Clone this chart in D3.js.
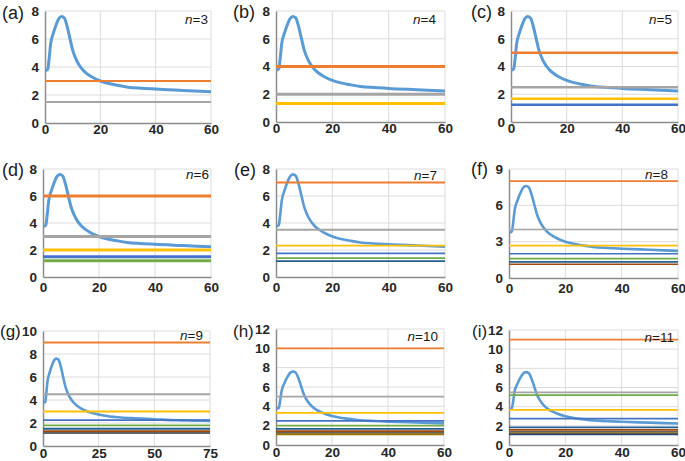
<!DOCTYPE html>
<html>
<head>
<meta charset="utf-8">
<script src="https://cdn.jsdelivr.net/npm/d3@7"></script>
<style>
  html, body { margin: 0; padding: 0; background: #fff; }
  svg { display: block; }
  text { font-family: "Liberation Sans", Arial, sans-serif; }
</style>
</head>
<body>
<svg id="chart" width="685" height="461"></svg>
<script>
// ---------------- DATA ----------------
const panelLabels = ["(a)", "(b)", "(c)", "(d)", "(e)", "(f)", "(g)", "(h)", "(i)"];
const nValues = [3, 4, 5, 6, 7, 8, 9, 10, 11];
const xMaxes = [60, 60, 60, 60, 60, 60, 75, 60, 60];
const xTickSteps = [20, 20, 20, 20, 20, 20, 25, 20, 20];
const yMaxes = [8, 8, 8, 8, 8, 9, 10, 12, 12];
const yTickSteps = [2, 2, 2, 2, 2, 3, 2, 2, 2];

// the common (blue) curve
const curveX = [0.3, 1, 1.5, 2, 3, 4, 5, 6, 7, 8, 9, 10, 11, 12, 13, 14, 15, 17, 20, 23, 26, 30, 35, 40, 50, 60, 65, 70, 75];
const curveY = [3.75, 3.85, 4.6, 5.6, 6.4, 7.0, 7.45, 7.6, 7.5, 6.9, 6.05, 5.2, 4.65, 4.25, 3.95, 3.72, 3.55, 3.28, 3.0, 2.82, 2.7, 2.56, 2.48, 2.42, 2.33, 2.24, 2.22, 2.2, 2.18];

// horizontal levels for each panel
const levelsA = [3, 1.5];
const levelsB = [4, 2, 1.33];
const levelsC = [5, 2.5, 1.67, 1.25];
const levelsD = [6, 3, 2, 1.5, 1.2];
const levelsE = [7, 3.5, 2.33, 1.75, 1.4, 1.17];
const levelsF = [8, 4, 2.67, 2, 1.6, 1.33, 1.14];
const levelsG = [9, 4.5, 3, 2.25, 1.8, 1.5, 1.29, 1.13];
const levelsH = [10, 5, 3.33, 2.5, 2, 1.67, 1.43, 1.25, 1.11];
const levelsI = [11, 5.5, 3.67, 2.75, 5.2, 1.83, 1.57, 1.38, 1.22, 1.1];
const allLevels = [levelsA, levelsB, levelsC, levelsD, levelsE, levelsF, levelsG, levelsH, levelsI];

const curveColor = "#5B9BD5";
const levelColors = ["#ED7D31", "#A5A5A5", "#FFC000", "#4472C4", "#70AD47", "#255E91", "#9E480E", "#636363", "#997300", "#264478"];

// ---------------- LAYOUT ----------------
const plotLeft   = [45, 276, 511, 43, 276, 509, 43, 276, 509];
const plotRight  = [211, 445, 678, 211, 445, 678, 210, 444, 678];
const plotTop    = [11, 11, 11, 169, 169, 169, 331, 329, 330];
const plotBottom = [123, 122, 122, 277, 277, 278, 446, 445, 445];
const labelX     = [2, 233, 471, 2, 234, 471, 0, 233, 472];
const labelY     = [19, 18, 18, 176, 176, 175, 337, 337, 337];
const labelSize  = [18, 18, 18, 18, 18, 18, 17, 17, 17];
const nLabelDx   = [-3, -9, -6, -2, -8, -10, -7, -6, -4];
const nLabelY    = [24, 24, 24, 179, 180, 179, 340, 341, 342];
const levelWidth = [2.2, 3, 2.5, 3, 1.8, 1.6, 1.8, 1.8, 1.8];
const tickWeight = [700, 700, 600, 600, 600, 600, 700, 700, 700];
const xTickPad   = [1, 1, 1, 5, 5, 5, 2, 2, 2];

const svg = d3.select("#chart");
const curveData = curveX.map((x, i) => ({x, y: curveY[i]}));

panelLabels.forEach((lab, p) => {
  const x = d3.scaleLinear().domain([0, xMaxes[p]]).range([plotLeft[p], plotRight[p]]);
  const y = d3.scaleLinear().domain([0, yMaxes[p]]).range([plotBottom[p], plotTop[p]]);
  const g = svg.append("g");

  const xt = d3.range(0, xMaxes[p] + 0.001, xTickSteps[p]);
  const yt = d3.range(0, yMaxes[p] + 0.001, yTickSteps[p]);

  // gridlines
  g.selectAll(".hg").data(yt.filter(v => v > 0)).join("line")
    .attr("x1", plotLeft[p]).attr("x2", plotRight[p])
    .attr("y1", d => y(d)).attr("y2", d => y(d))
    .attr("stroke", "#dcdcdc").attr("stroke-width", 1);
  g.selectAll(".vg").data(xt.filter(v => v > 0)).join("line")
    .attr("x1", d => x(d)).attr("x2", d => x(d))
    .attr("y1", plotTop[p]).attr("y2", plotBottom[p])
    .attr("stroke", "#dcdcdc").attr("stroke-width", 1);

  // axes
  const xAxis = d3.axisBottom(x).tickValues(xt).tickSize(0).tickPadding(xTickPad[p]).tickFormat(d3.format("d"));
  const yAxis = d3.axisLeft(y).tickValues(yt).tickSize(0).tickPadding(6).tickFormat(d3.format("d"));
  const gx = g.append("g").attr("transform", `translate(0,${plotBottom[p]})`).call(xAxis);
  const gy = g.append("g").attr("transform", `translate(${plotLeft[p]},0)`).call(yAxis);
  [gx, gy].forEach(a => {
    a.select(".domain").attr("stroke", "#8c8c8c").attr("stroke-width", 1.5);
    a.selectAll("text").attr("fill", "#262626").attr("font-size", 13.5)
      .attr("font-weight", tickWeight[p]);
  });

  // curve (drawn first, like series 1)
  const clipId = "clip" + p;
  svg.append("clipPath").attr("id", clipId).append("rect")
    .attr("x", plotLeft[p]).attr("y", plotTop[p] - 5)
    .attr("width", plotRight[p] - plotLeft[p]).attr("height", plotBottom[p] - plotTop[p] + 5);
  g.append("path").datum(curveData.filter(d => d.x <= xMaxes[p]))
    .attr("clip-path", `url(#${clipId})`)
    .attr("fill", "none").attr("stroke", curveColor)
    .attr("stroke-width", p < 4 ? 3 : 2.6).attr("stroke-linejoin", "round")
    .attr("d", d3.line().x(d => x(d.x)).y(d => y(d.y)).curve(d3.curveMonotoneX));

  // horizontal levels
  g.selectAll(".lv").data(allLevels[p]).join("line")
    .attr("x1", x(0)).attr("x2", x(xMaxes[p]))
    .attr("y1", d => y(d)).attr("y2", d => y(d))
    .attr("stroke", (d, i) => levelColors[i % levelColors.length])
    .attr("stroke-width", levelWidth[p]);

  // panel label
  g.append("text").attr("x", labelX[p]).attr("y", labelY[p])
    .attr("font-size", labelSize[p]).attr("fill", "#1a1a1a").text(lab);

  // n label
  const t = g.append("text").attr("x", plotRight[p] + nLabelDx[p]).attr("y", nLabelY[p])
    .attr("text-anchor", "end").attr("font-size", 13.5).attr("fill", "#1a1a1a");
  t.append("tspan").attr("font-style", "italic").text("n");
  t.append("tspan").text("=" + nValues[p]);
});
</script>
</body>
</html>
